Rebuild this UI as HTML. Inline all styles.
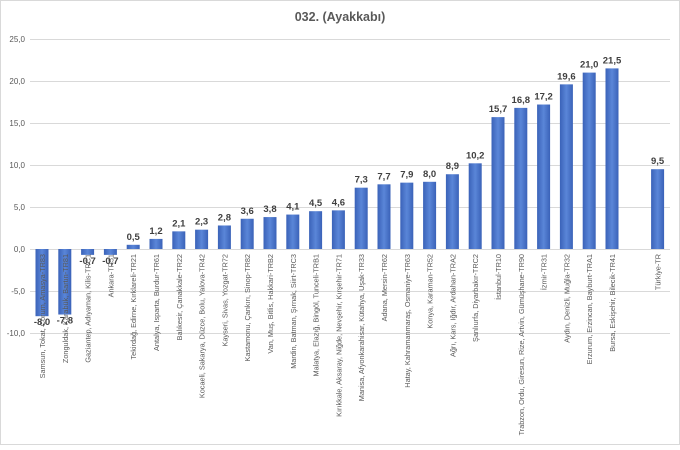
<!DOCTYPE html>
<html><head><meta charset="utf-8"><style>body{margin:0;background:#fff}</style></head><body>
<svg width="680" height="445" viewBox="0 0 680 445" xmlns="http://www.w3.org/2000/svg" font-family="Liberation Sans, sans-serif">
<defs><linearGradient id="g" x1="0" x2="1"><stop offset="0" stop-color="#3a62b8"/><stop offset="0.5" stop-color="#5a86d8"/><stop offset="1" stop-color="#3a62b8"/></linearGradient></defs>
<rect x="0.5" y="0.5" width="679" height="444" fill="#fff" stroke="#d9d9d9"/>
<text x="340" y="21" text-anchor="middle" font-size="12.5" font-weight="bold" fill="#595959">032. (Ayakkabı)</text>
<g id="grid" stroke="#d9d9d9" stroke-width="1"></g>
<g id="yl" font-size="8" fill="#595959" text-anchor="end"></g>
<g id="bars"></g>
</svg>
<script>
const ns="http://www.w3.org/2000/svg";
const svg=document.querySelector('svg');
function el(t,a,p,txt){const e=document.createElementNS(ns,t);for(const k in a)e.setAttribute(k,a[k]);if(txt!==undefined)e.textContent=txt;(p||svg).appendChild(e);return e;}
const Y=v=>249-v*8.4;
const grid=document.getElementById('grid'),yl=document.getElementById('yl');
for(let v=-10;v<=25;v+=5){el('line',{x1:30,x2:670,y1:Y(v)+.5,y2:Y(v)+.5},grid);el('text',{x:25,y:Y(v)+3},yl,v.toFixed(1).replace('.',','));}
const d=[["Samsun, Tokat, Çorum, Amasya-TR83",-8.0],["Zonguldak, Karabük, Bartın-TR81",-7.8],["Gaziantep, Adıyaman, Kilis-TRC1",-0.7],["Ankara-TR51",-0.7],["Tekirdağ, Edirne, Kırklareli-TR21",0.5],["Antalya, Isparta, Burdur-TR61",1.2],["Balıkesir, Çanakkale-TR22",2.1],["Kocaeli, Sakarya, Düzce, Bolu, Yalova-TR42",2.3],["Kayseri, Sivas, Yozgat-TR72",2.8],["Kastamonu, Çankırı, Sinop-TR82",3.6],["Van, Muş, Bitlis, Hakkari-TRB2",3.8],["Mardin, Batman, Şırnak, Siirt-TRC3",4.1],["Malatya, Elazığ, Bingöl, Tunceli-TRB1",4.5],["Kırıkkale, Aksaray, Niğde, Nevşehir, Kırşehir-TR71",4.6],["Manisa, Afyonkarahisar, Kütahya, Uşak-TR33",7.3],["Adana, Mersin-TR62",7.7],["Hatay, Kahramanmaraş, Osmaniye-TR63",7.9],["Konya, Karaman-TR52",8.0],["Ağrı, Kars, Iğdır, Ardahan-TRA2",8.9],["Şanlıurfa, Diyarbakır-TRC2",10.2],["İstanbul-TR10",15.7],["Trabzon, Ordu, Giresun, Rize, Artvin, Gümüşhane-TR90",16.8],["İzmir-TR31",17.2],["Aydın, Denizli, Muğla-TR32",19.6],["Erzurum, Erzincan, Bayburt-TRA1",21.0],["Bursa, Eskişehir, Bilecik-TR41",21.5],null,["Türkiye-TR",9.5]];
const b=document.getElementById('bars');
d.forEach((r,i)=>{if(!r)return;const cx=42+i*22.8,v=r[1];const y0=Math.min(Y(v),Y(0)),h=Math.abs(v*8.4);
el('rect',{x:cx-6.5,y:y0,width:13,height:Math.max(h,1),fill:'url(#g)'},b);
const lab=v.toFixed(1).replace('.',',');
el('text',{x:cx,y:v>=0?Y(v)-5:Y(v)+9,'text-anchor':'middle','font-size':'9.5','font-weight':'bold',fill:'#404040'},b,lab);
el('text',{x:cx+3,y:254,'text-anchor':'end','font-size':'7.3',fill:'#595959',transform:`rotate(-90 ${cx+3} 254)`},b,r[0]);});
</script>
</body></html>
